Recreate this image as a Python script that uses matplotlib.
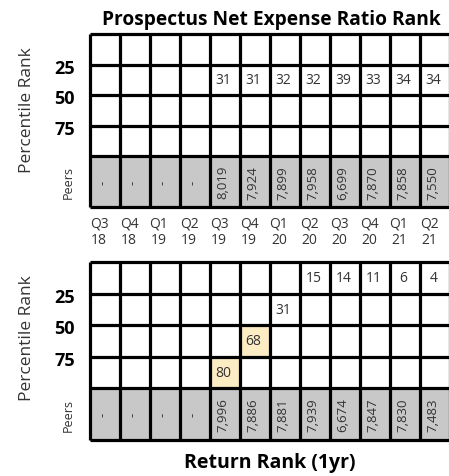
import matplotlib
matplotlib.use("Agg")
import matplotlib.pyplot as plt
from matplotlib.patches import Rectangle

quarters = ["Q3", "Q4", "Q1", "Q2", "Q3", "Q4", "Q1", "Q2", "Q3", "Q4", "Q1", "Q2"]
years = ["18", "18", "19", "19", "19", "19", "20", "20", "20", "20", "21", "21"]

expense_rank = [None, None, None, None, 31, 31, 32, 32, 39, 33, 34, 34]
expense_peers = ["-", "-", "-", "-", "8,019", "7,924", "7,899", "7,958", "6,699", "7,870", "7,858", "7,550"]

return_rank = [None, None, None, None, 80, 68, 31, 15, 14, 11, 6, 4]
return_peers = ["-", "-", "-", "-", "7,996", "7,886", "7,881", "7,939", "6,674", "7,847", "7,830", "7,483"]

ytick_labels = ["25", "50", "75"]

FONT = ["Open Sans", "DejaVu Sans"]
BFONT = ["Open Sans", "DejaVu Sans"]
TXT = "#333333"
GRAY = "#C8C8C8"
HILITE = "#FCECC4"
LW = 2.3
PEER_H = 1.65
NROWS = 4
NCOLS = len(quarters)

fig = plt.figure(figsize=(4.49, 4.77), dpi=100)

W, H = 449, 477
left = 90 / W
width = 360 / W
ax_top = fig.add_axes([left, 1 - 208 / H, width, 173 / H])
ax_bot = fig.add_axes([left, 1 - 441 / H, width, 178 / H])


def draw_grid(ax, ranks, peers):
    total = NROWS + PEER_H
    ax.set_xlim(0, NCOLS)
    ax.set_ylim(total, 0)
    ax.set_axis_off()
    ax.add_patch(Rectangle((0, NROWS), NCOLS, PEER_H, facecolor=GRAY,
                           edgecolor="none", zorder=0, clip_on=False))
    for i, r in enumerate(ranks):
        if r is None:
            continue
        row = min(int((r - 1) // 25), 3)
        if r > 50:
            ax.add_patch(Rectangle((i, row), 1, 1, facecolor=HILITE,
                                   edgecolor="none", zorder=0.5))
        ax.text(i + 0.45, row + 0.5, str(r), ha="center", va="center",
                fontsize=10, color=TXT, family=FONT)
    for i, p in enumerate(peers):
        ax.text(i + 0.42, NROWS + PEER_H / 2, p, ha="center", va="center",
                rotation=90, fontsize=9.5, color=TXT, family=FONT)
    ys = list(range(NROWS + 1)) + [total]
    ax.hlines(ys, 0, NCOLS, colors="black", linewidth=LW, clip_on=False,
              zorder=3)
    ax.vlines(range(NCOLS + 1), 0, total, colors="black", linewidth=LW,
              clip_on=False, zorder=3)
    for k, lab in enumerate(ytick_labels):
        ax.text(-0.5, k + 1.1, lab, ha="right", va="center", fontsize=13,
                fontweight="bold", color="black", family=BFONT)
    ax.text(-0.73, NROWS + PEER_H / 2, "Peers", ha="center", va="center",
            rotation=90, fontsize=9, color=TXT, family=FONT)


draw_grid(ax_top, expense_rank, expense_peers)
draw_grid(ax_bot, return_rank, return_peers)

for i, (q, y) in enumerate(zip(quarters, years)):
    ax_top.text(i + 0.3, NROWS + PEER_H + 0.78, f"{q}\n{y}", ha="center",
                va="center", fontsize=10, color=TXT, family=FONT,
                linespacing=1.15)

fig.text(271 / W, 1 - 20 / H, "Prospectus Net Expense Ratio Rank",
         ha="center", va="center", fontsize=13.8, fontweight="bold",
         color="black", family=BFONT)
fig.text(270 / W, 1 - 463 / H, "Return Rank (1yr)", ha="center",
         va="center", fontsize=14, fontweight="bold", color="black",
         family=BFONT)

for yc in (110, 338):
    fig.text(27 / W, 1 - yc / H, "Percentile Rank", ha="center",
             va="center", rotation=90, fontsize=12.5, color=TXT, family=FONT)

fig.savefig("out.png", dpi=100)
